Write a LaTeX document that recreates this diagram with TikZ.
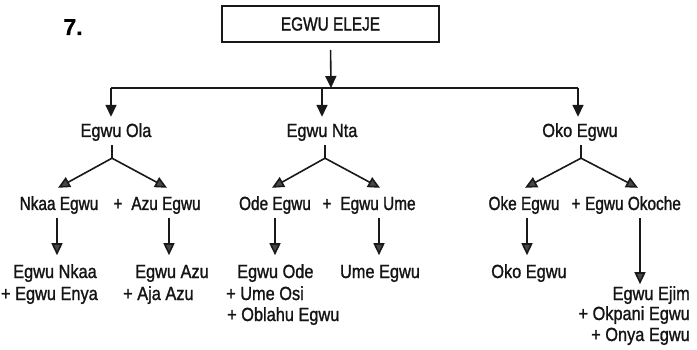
\documentclass[tikz,border=0pt]{standalone}
\usepackage{fontspec}
\setmainfont{Liberation Sans}[FakeStretch=0.86,FakeBold=1.2]
\newfontfamily\narrowfont{Liberation Sans}[FakeStretch=0.81,FakeBold=1.3]
\newfontfamily\numfont{Liberation Sans}[FakeBold=0.6]
\usetikzlibrary{arrows.meta,calc}
\begin{document}
\begin{tikzpicture}[x=1pt,y=-1pt,
  lbl/.style={inner sep=0pt, text height=13pt, text depth=4pt,
    font=\fontsize{19}{19}\selectfont, text=black!92},
  lbltwo/.style={lbl, font=\narrowfont\fontsize{19}{19}\selectfont},
  conn/.style={line width=1.6pt, draw=black!90},
  arr/.style={conn, -{Triangle[width=11pt,length=12pt]}},
  garr/.style={arr, -{Triangle[width=11pt,length=12pt,fill=black!72]}}]
\useasboundingbox (0,0) rectangle (697,350);
\fill[white] (0,0) rectangle (697,350);

% heading
\node[inner sep=0pt, anchor=base] (seven) at (73,35)
  {\numfont\bfseries\fontsize{23}{23}\selectfont 7.};
\node[draw=black!90, line width=1.7pt, minimum width=217pt, minimum height=36pt,
  inner sep=0pt, font=\narrowfont\fontsize{19}{19}\selectfont, text=black!92]
  (top) at (330.5,24) {EGWU ELEJE};

% bus
\coordinate (bus) at (331,88);
\coordinate (busL) at (111,88);
\coordinate (busR) at (578,88);
\draw[arr, shorten <=7pt] (top.south) -- (bus);
\draw[conn] (busL) -- (busR);

% level 1
\node[lbl, anchor=base] (ola) at (116,137) {Egwu Ola};
\node[lbl, anchor=base] (nta) at (322,137) {Egwu Nta};
\node[lbl, anchor=base] (oko) at (580,137) {Oko Egwu};

\draw[arr] (busL) -- ($(ola.north)+(-5,-7)$);
\draw[arr] ($(nta.north)+(0,-36)$) -- ($(nta.north)+(0,-7)$);
\draw[arr] (busR) -- ($(oko.north)+(-2,-7)$);

% stems
\coordinate (jola) at ($(ola.south)+(-4,17)$);
\coordinate (jnta) at ($(nta.south)+(3,17)$);
\coordinate (joko) at ($(oko.south)+(1,17)$);
\draw[conn] ($(ola.south)+(-4,4)$) -- (jola);
\draw[conn] ($(nta.south)+(3,4)$) -- (jnta);
\draw[conn] ($(oko.south)+(1,4)$) -- (joko);

% level 2
\node[lbltwo, anchor=base] (nkaa) at (59,210) {Nkaa Egwu};
\node[lbltwo, anchor=base] (p1) at (118,210) {+};
\node[lbltwo, anchor=base] (azu) at (166,210) {Azu Egwu};
\node[lbltwo, anchor=base] (ode) at (275,210) {Ode Egwu};
\node[lbltwo, anchor=base] (p2) at (327,210) {+};
\node[lbltwo, anchor=base] (ume) at (378,210) {Egwu Ume};
\node[lbltwo, anchor=base] (oke) at (524,210) {Oke Egwu};
\node[lbltwo, anchor=base] (p3) at (576,210) {+};
\node[lbltwo, anchor=base] (okoche) at (633,210) {Egwu Okoche};

\draw[garr] (jola) -- ($(nkaa.north)+(-1,-9)$);
\draw[garr] (jola) -- ($(azu.north)+(1,-9)$);
\draw[garr] (jnta) -- ($(ode.north)+(-3,-9)$);
\draw[garr] (jnta) -- ($(ume.north)+(2,-9)$);
\draw[garr] (joko) -- ($(oke.north)+(1,-9)$);
\draw[garr] (joko) -- ($(okoche.north)+(5,-9)$);

% level 3
\node[lbl, anchor=base east] (nkaa3a) at (97,278) {Egwu Nkaa};
\node[lbl, anchor=base east] (nkaa3b) at (98,300) {+ Egwu Enya};
\node[lbl, anchor=base west] (azu3a) at (135,278) {Egwu Azu};
\node[lbl, anchor=base west] (azu3b) at (123,300) {+ Aja Azu};
\node[lbl, anchor=base west] (ode3a) at (237,278) {Egwu Ode};
\node[lbl, anchor=base west] (ode3b) at (226,300) {+ Ume Osi};
\node[lbl, anchor=base west] (ode3c) at (227,321) {+ Oblahu Egwu};
\node[lbl, anchor=base] (ume3) at (380,278) {Ume Egwu};
\node[lbl, anchor=base] (oko3) at (529,278) {Oko Egwu};
\node[lbl, anchor=base east] (oko3a) at (690,300) {Egwu Ejim};
\node[lbl, anchor=base east] (oko3b) at (690,320) {+ Okpani Egwu};
\node[lbl, anchor=base east] (oko3c) at (690,341) {+ Onya Egwu};

\draw[garr] ($(nkaa.south)+(-2,4)$) -- ($(nkaa.south)+(-2,41)$);
\draw[garr] ($(azu.south)+(3,4)$) -- ($(azu.south)+(3,41)$);
\draw[garr] ($(ode.south)+(0,4)$) -- ($(ode.south)+(0,41)$);
\draw[garr] ($(ume.south)+(1,4)$) -- ($(ume.south)+(1,41)$);
\draw[garr] ($(oke.south)+(3,4)$) -- ($(oke.south)+(3,41)$);
\draw[garr] ($(okoche.south)+(7,4)$) -- ($(okoche.south)+(7,70)$);
\end{tikzpicture}
\end{document}
